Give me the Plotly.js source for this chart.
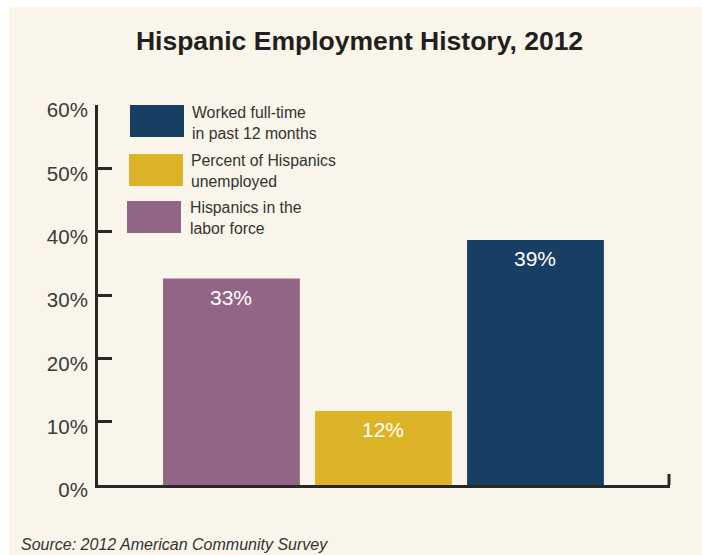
<!DOCTYPE html>
<html>
<head>
<meta charset="utf-8">
<script src="https://cdn.plot.ly/plotly-3.0.1.min.js"></script>
<style>
  html, body { margin: 0; padding: 0; background: #ffffff; width: 702px; height: 555px; overflow: hidden; }
  #chart { position: absolute; left: 9px; top: 7px; width: 693px; height: 548px; }
</style>
</head>
<body>
<div id="chart"></div>
<script>
// ---- data ----
const categories = ["Hispanics in the labor force", "Percent of Hispanics unemployed", "Worked full-time in past 12 months"];
const values = [32.6, 11.7, 38.7];
const valueLabels = ["33%", "12%", "39%"];
const barColors = ["#926586", "#DDB428", "#173F63"];
const legendLabels = ["Worked full-time<br>in past 12 months", "Percent of Hispanics<br>unemployed", "Hispanics in the<br>labor force"];
const legendColors = ["#173F63", "#DDB428", "#926586"];
const yTickVals = [0, 10, 20, 30, 40, 50, 60];
const yTickText = ["0%", "10%", "20%", "30%", "40%", "50%", "60%"];
const titleText = "Hispanic Employment History, 2012";
const sourceText = "Source: 2012 American Community Survey";

// ---- layout helpers (pixel positions in the 702x555 page -> paper coords) ----
const PL = 98, PR = 670, PT = 105, PB = 485;
const px = x => (x - PL) / (PR - PL);
const py = y => (PB - y) / (PB - PT);

const textColor = "#333333";
const axisColor = "#2b2727";
const bg = "#F9F5EA";

const trace = {
  type: "bar",
  x: categories,
  y: values,
  marker: { color: barColors, line: { width: 0 } },
  width: 0.9,
  hoverinfo: "skip",
  showlegend: false
};

const annotations = [];
// bar value labels
categories.forEach((c, i) => {
  annotations.push({
    x: c, y: values[i], xref: "x", yref: "y",
    text: valueLabels[i], showarrow: false,
    xanchor: "center", yanchor: "top", yshift: -5,
    font: { family: "Liberation Sans, Arial, sans-serif", size: 21, color: "#ffffff" }
  });
});

// legend (custom)
const legendBoxes = [[130, 184, 105, 137], [129, 183, 154, 186], [127, 181, 201, 233]];
const legendTextPos = [[190, 122.5], [188.5, 170.5], [187.5, 217.7]];
const shapes = [];
legendLabels.forEach((lab, i) => {
  const b = legendBoxes[i];
  shapes.push({
    type: "rect", xref: "paper", yref: "paper",
    x0: px(b[0]), x1: px(b[1]), y0: py(b[3]), y1: py(b[2]),
    fillcolor: legendColors[i], line: { width: 0 }
  });
  annotations.push({
    xref: "paper", yref: "paper",
    x: px(legendTextPos[i][0]), y: py(legendTextPos[i][1]),
    xanchor: "left", yanchor: "middle", align: "left",
    text: lab, showarrow: false,
    font: { family: "Liberation Sans, Arial, sans-serif", size: 15.8, color: textColor }
  });
});

// right end tick of x axis
shapes.push({
  type: "line", xref: "paper", yref: "paper",
  x0: px(669), x1: px(669), y0: py(485), y1: py(474),
  line: { color: axisColor, width: 3 }
});

// source
annotations.push({
  xref: "paper", yref: "paper",
  x: px(19), y: py(544),
  xanchor: "left", yanchor: "middle",
  text: "<i>" + sourceText + "</i>", showarrow: false,
  font: { family: "Liberation Sans, Arial, sans-serif", size: 16, color: textColor }
});

const layout = {
  width: 693, height: 548,
  margin: { l: PL - 9, r: 702 - PR, t: PT - 7, b: 555 - PB },
  paper_bgcolor: bg,
  plot_bgcolor: bg,
  title: {
    text: "<b>" + titleText + "</b>",
    xref: "container", yref: "container",
    x: (359.5 - 9) / 693, y: 1 - (41 - 7) / 548,
    xanchor: "center", yanchor: "middle",
    font: { family: "Liberation Sans, Arial, sans-serif", size: 26.5, color: "#231f20" }
  },
  xaxis: {
    type: "category",
    range: [-0.878, 2.885],
    showticklabels: false,
    ticks: "",
    showgrid: false,
    zeroline: false,
    showline: true,
    linecolor: axisColor,
    linewidth: 3,
    layer: "below traces",
    fixedrange: true
  },
  yaxis: {
    range: [0, 60],
    tickvals: yTickVals,
    ticktext: yTickText,
    ticks: "inside",
    ticklen: 14,
    tickwidth: 3,
    tickcolor: axisColor,
    ticklabelstandoff: 3,
    ticklabelshift: 5,
    showgrid: false,
    zeroline: false,
    showline: true,
    linecolor: axisColor,
    linewidth: 3,
    tickfont: { family: "Liberation Sans, Arial, sans-serif", size: 20.5, color: "#3a3a3a" },
    fixedrange: true
  },
  bargap: 0.1,
  showlegend: false,
  shapes: shapes,
  annotations: annotations
};

Plotly.newPlot("chart", [trace], layout, { staticPlot: true, displayModeBar: false });
</script>
</body>
</html>
